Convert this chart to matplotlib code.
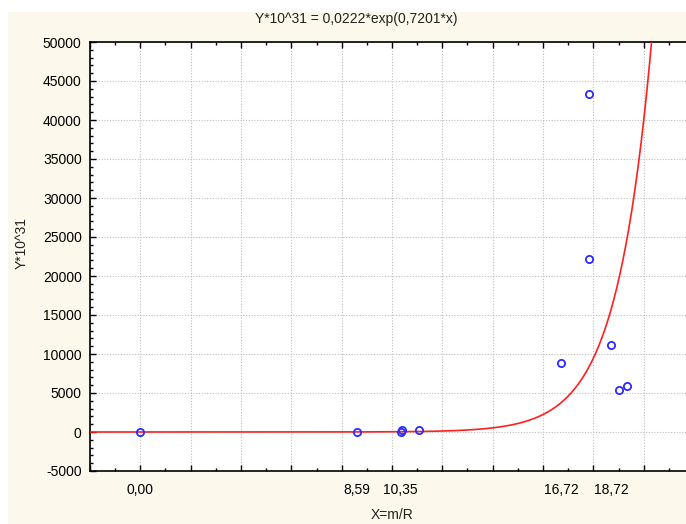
import numpy as np
import matplotlib
matplotlib.use("Agg")
import matplotlib.pyplot as plt
from matplotlib.ticker import MultipleLocator
from matplotlib.patches import Rectangle

plt.rcParams['font.family'] = ['Liberation Sans', 'DejaVu Sans']
plt.rcParams['axes.unicode_minus'] = False

# --- data ---
x_obs = [0.00, 8.59, 10.35, 10.40, 11.07, 16.72, 17.82, 17.82, 18.72, 19.00, 19.33]
y_obs = [0, 50, 30, 300, 250, 8800, 22200, 43300, 11100, 5350, 5850]

# fitted model printed in the title: Y = a*exp(b*x)
fit_a = 0.0222
fit_b = 0.7201

x_label_pos = [0.00, 8.59, 10.35, 16.72, 18.72]
x_label_txt = ["0,00", "8,59", "10,35", "16,72", "18,72"]

cream = "#FDF8EC"
W, H = 686, 524

fig = plt.figure(figsize=(W / 100, H / 100), dpi=100, facecolor=cream)
# white strips along the top and left edge of the window
fig.patches.append(Rectangle((0, 1 - 12 / H), 1, 12 / H, transform=fig.transFigure,
                             facecolor="white", edgecolor="none", zorder=0))
fig.patches.append(Rectangle((0, 0), 8 / W, 1, transform=fig.transFigure,
                             facecolor="white", edgecolor="none", zorder=0))

# plot frame runs past the right edge of the image (cropped like the original)
ax = fig.add_axes([90 / W, 53 / H, 604 / W, 429 / H], facecolor="white")

xs = np.linspace(-2, 22, 400)
ys = fit_a * np.exp(fit_b * xs)
ax.plot(xs, ys, color="#FF1F1F", lw=1.2, zorder=3)
ax.plot(x_obs, y_obs, linestyle="none", marker="o", ms=5.2, mew=1.3,
        mfc="none", mec="#2B2BFF", zorder=4)

ax.set_xlim(-2, 22)
ax.set_ylim(-5000, 50000)

ax.xaxis.set_major_locator(MultipleLocator(2))
ax.xaxis.set_minor_locator(MultipleLocator(1))
ax.yaxis.set_major_locator(MultipleLocator(5000))
ax.yaxis.set_minor_locator(MultipleLocator(1000))
ax.set_xticklabels([])
ax.tick_params(axis="both", which="both", direction="in", top=True, right=True, color="black")
ax.tick_params(axis="both", which="major", length=4, width=1)
ax.tick_params(axis="both", which="minor", length=2, width=1)
ax.tick_params(axis="y", which="major", labelsize=10, pad=6)
ax.tick_params(axis="x", which="major", labelbottom=False)

ax.grid(True, which="major", color="#BDBDBD", linestyle=(0, (1, 1.5)), linewidth=0.8)
ax.set_axisbelow(True)
for sp in ax.spines.values():
    sp.set_linewidth(1.2)
    sp.set_color("black")

# x labels sit at the data positions, without tick marks
sec = ax.secondary_xaxis("bottom")
sec.set_xticks(x_label_pos, x_label_txt)
sec.tick_params(length=0, labelsize=10, pad=9)
sec.spines["bottom"].set_visible(False)

fig.text(356 / W, 1 - 19 / H, "Y*10^31 = 0,0222*exp(0,7201*x)", ha="center", va="center",
         fontsize=10, color="#222222")
fig.text(392 / W, 1 - 515 / H, "X=m/R", ha="center", va="center", fontsize=10, color="#222222")
fig.text(22 / W, 1 - 243 / H, "Y*10^31", ha="center", va="center", rotation=90,
         fontsize=10, color="#222222")

fig.savefig("out.png", dpi=100, facecolor=cream)
